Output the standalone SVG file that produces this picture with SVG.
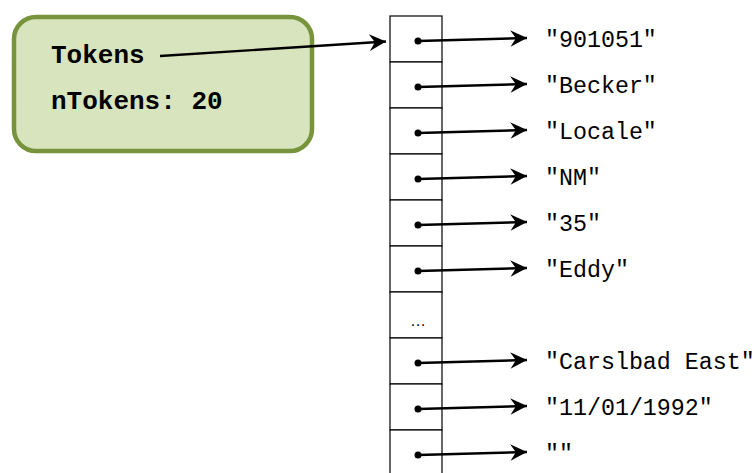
<svg xmlns="http://www.w3.org/2000/svg" width="756" height="473" viewBox="0 0 756 473">
<style>
.cell{fill:#ffffff;stroke:#000000;stroke-width:1.2}
.ptr{stroke:#000000;stroke-width:2.4;fill:none;marker-end:url(#ah)}
.dot{fill:#000000}
.lbl{font-family:"Liberation Mono","Courier New",monospace;font-size:23.3px;fill:#000000}
.btxt{font-family:"Liberation Mono","Courier New",monospace;font-size:26px;font-weight:bold;fill:#000000}
</style>
<defs>
<marker id="ah" markerUnits="userSpaceOnUse" markerWidth="20" markerHeight="20" viewBox="-16 -9 18 18" refX="0" refY="0" orient="auto" overflow="visible">
<path d="M0,0 L-15,-7.5 L-10,0 L-15,7.5 Z" fill="#000000"/>
</marker>
</defs>
<rect width="756" height="473" fill="#ffffff"/>
<g id="tokens-box">
<rect x="14" y="17" width="298" height="134" rx="22" ry="22" fill="#d7e4bd" stroke="#77933c" stroke-width="4.5"/>
<text class="btxt" x="51" y="63">Tokens</text>
<text class="btxt" x="51" y="109">nTokens: 20</text>
</g>
<g id="array">
<rect class="cell" x="390" y="16" width="52" height="46"/>
<rect class="cell" x="390" y="62" width="52" height="46"/>
<rect class="cell" x="390" y="108" width="52" height="46"/>
<rect class="cell" x="390" y="154" width="52" height="46"/>
<rect class="cell" x="390" y="200" width="52" height="46"/>
<rect class="cell" x="390" y="246" width="52" height="46"/>
<rect class="cell" x="390" y="292" width="52" height="46"/>
<rect class="cell" x="390" y="338" width="52" height="46"/>
<rect class="cell" x="390" y="384" width="52" height="46"/>
<rect class="cell" x="390" y="430" width="52" height="46"/>
<text x="418" y="326" text-anchor="middle" font-family="Liberation Sans, Arial, sans-serif" font-size="16" fill="#000000">…</text>
<circle class="dot" cx="418" cy="41" r="3.5"/>
<circle class="dot" cx="418" cy="87" r="3.5"/>
<circle class="dot" cx="418" cy="133" r="3.5"/>
<circle class="dot" cx="418" cy="179" r="3.5"/>
<circle class="dot" cx="418" cy="225" r="3.5"/>
<circle class="dot" cx="418" cy="271" r="3.5"/>
<circle class="dot" cx="418" cy="363" r="3.5"/>
<circle class="dot" cx="418" cy="409" r="3.5"/>
<circle class="dot" cx="418" cy="455" r="3.5"/>
</g>
<g id="strings">
<text class="lbl" x="545" y="47">"901051"</text>
<text class="lbl" x="545" y="93">"Becker"</text>
<text class="lbl" x="545" y="139">"Locale"</text>
<text class="lbl" x="545" y="185">"NM"</text>
<text class="lbl" x="545" y="231">"35"</text>
<text class="lbl" x="545" y="277">"Eddy"</text>
<text class="lbl" x="545" y="369">"Carslbad East"</text>
<text class="lbl" x="545" y="415">"11/01/1992"</text>
<text class="lbl" x="545" y="461">""</text>
</g>
<g id="connectors">
<line class="ptr" x1="160" y1="56" x2="386" y2="41.5"/>
<line class="ptr" x1="418" y1="41" x2="527" y2="38"/>
<line class="ptr" x1="418" y1="87" x2="527" y2="84"/>
<line class="ptr" x1="418" y1="133" x2="527" y2="130"/>
<line class="ptr" x1="418" y1="179" x2="527" y2="176"/>
<line class="ptr" x1="418" y1="225" x2="527" y2="222"/>
<line class="ptr" x1="418" y1="271" x2="527" y2="268"/>
<line class="ptr" x1="418" y1="363" x2="527" y2="360"/>
<line class="ptr" x1="418" y1="409" x2="527" y2="406"/>
<line class="ptr" x1="418" y1="455" x2="527" y2="452"/>
</g>
</svg>
